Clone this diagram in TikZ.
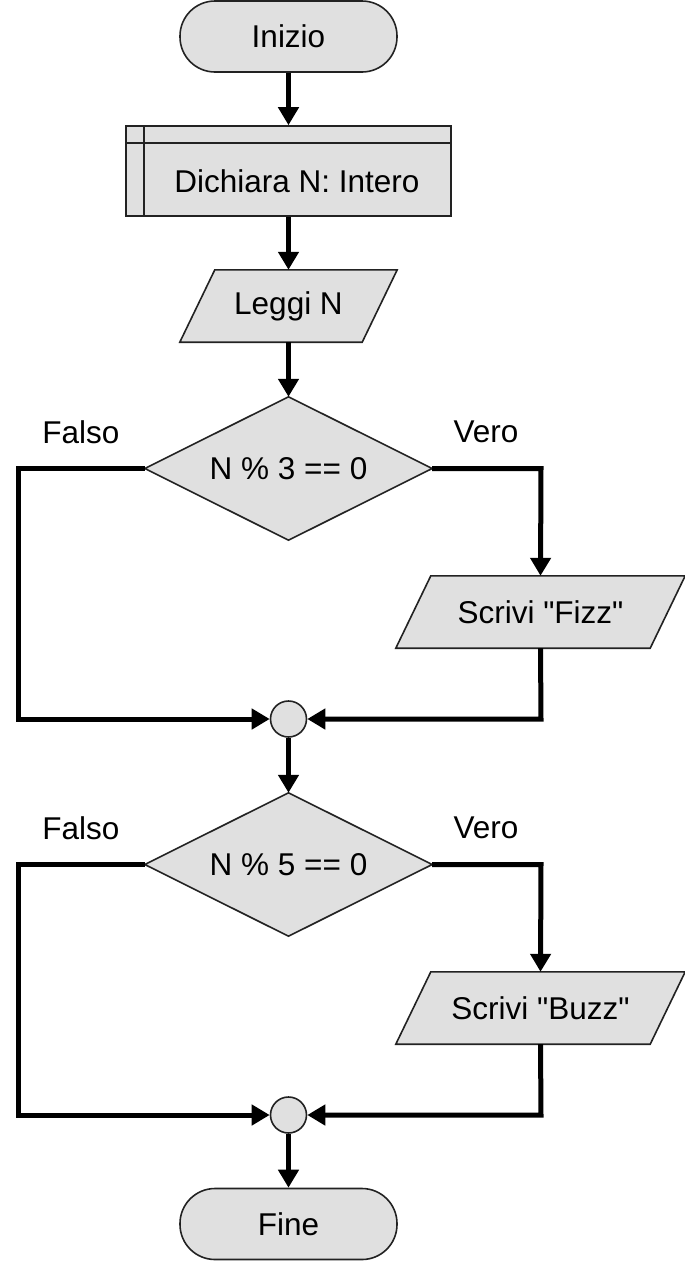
\documentclass[tikz,border=0pt]{standalone}
\usepackage{fontspec}
\setmainfont{Liberation Sans}[Ligatures=TeXOff]
\usetikzlibrary{arrows.meta,calc,backgrounds}
\definecolor{boxgray}{HTML}{E0E0E0}
\definecolor{edgegray}{HTML}{222222}
\begin{document}
\begin{tikzpicture}[x=1pt,y=-1pt,
  font=\fontsize{31.5}{38}\selectfont,
  shapeline/.style={draw=edgegray, line width=1.6pt, fill=boxgray},
  term/.style={shapeline, rectangle, rounded corners=35pt, minimum width=217pt, minimum height=71pt, inner sep=0pt},
  subbox/.style={shapeline, rectangle, minimum width=325pt, minimum height=90pt, inner sep=0pt},
  iobox/.style={rectangle, minimum height=72pt, inner sep=0pt},
  decision/.style={rectangle, minimum width=287pt, minimum height=143pt, inner sep=0pt},
  merge/.style={shapeline, circle, minimum size=36pt, inner sep=0pt},
  conn/.style={line width=5pt, line join=miter, -{Triangle[length=18pt,width=20pt]}},
  inner/.style={draw=edgegray, line width=1.6pt}]
\useasboundingbox (0,0) rectangle (685,1261);

% nodes
\node[term] (start) at (288.5,36.5) {Inizio};
\node[subbox] (decl) at (288.5,171) {};
\draw[inner] ($(decl.north west)+(19,0)$) -- ($(decl.south west)+(19,0)$);
\draw[inner] ($(decl.north west)+(0,18)$) -- ($(decl.north east)+(0,18)$);
\node (decltxt) at (297,181) {Dichiara N: Intero};

\node[iobox, minimum width=217pt] (read) at (288.5,306) {Leggi N};
\node[decision] (d1) at (288.5,468.5) {N \% 3 == 0};
\node[iobox, minimum width=289pt] (fizz) at (540.5,612) {Scrivi "Fizz"};
\node[merge] (m1) at (288.5,719) {};
\node[decision] (d2) at (288.5,864.5) {N \% 5 == 0};
\node[iobox, minimum width=289pt] (buzz) at (540.5,1008) {Scrivi "Buzz"};
\node[merge] (m2) at (288.5,1115) {};
\node[term] (stop) at (288.5,1224) {Fine};

\begin{scope}[on background layer]
\foreach \n in {read,fizz,buzz}{
  \draw[shapeline] (\n.south west) -- ($(\n.north west)+(35,0)$) -- (\n.north east) -- ($(\n.south east)-(35,0)$) -- cycle;
}
\foreach \n in {d1,d2}{
  \draw[shapeline] (\n.north) -- (\n.east) -- (\n.south) -- (\n.west) -- cycle;
}
\end{scope}

% labels
\node (f1) at (81,432) {Falso};
\node (v1) at (486,432) {Vero};
\node (f2) at (81,828) {Falso};
\node (v2) at (486,828) {Vero};

% coordinates for bends
\coordinate (l1) at (18,468.5);
\coordinate (l1b) at (18,719);
\coordinate (r1) at (541,468.5);
\coordinate (r1b) at (541,719);
\coordinate (l2) at (18,864.5);
\coordinate (l2b) at (18,1115);
\coordinate (r2) at (541,864.5);
\coordinate (r2b) at (541,1115);

% connectors
\draw[conn] (start) -- (decl);
\draw[conn] (decl) -- (read);
\draw[conn] (read) -- (d1);
\draw[conn] (d1.east) -- (r1) -- (fizz.north);
\draw[conn] (d1.west) -- (l1) -- (l1b) -- (m1.west);
\draw[conn] (fizz.south) -- (r1b) -- (m1.east);
\draw[conn] (m1) -- (d2);
\draw[conn] (d2.east) -- (r2) -- (buzz.north);
\draw[conn] (d2.west) -- (l2) -- (l2b) -- (m2.west);
\draw[conn] (buzz.south) -- (r2b) -- (m2.east);
\draw[conn] (m2) -- (stop);
\end{tikzpicture}
\end{document}
